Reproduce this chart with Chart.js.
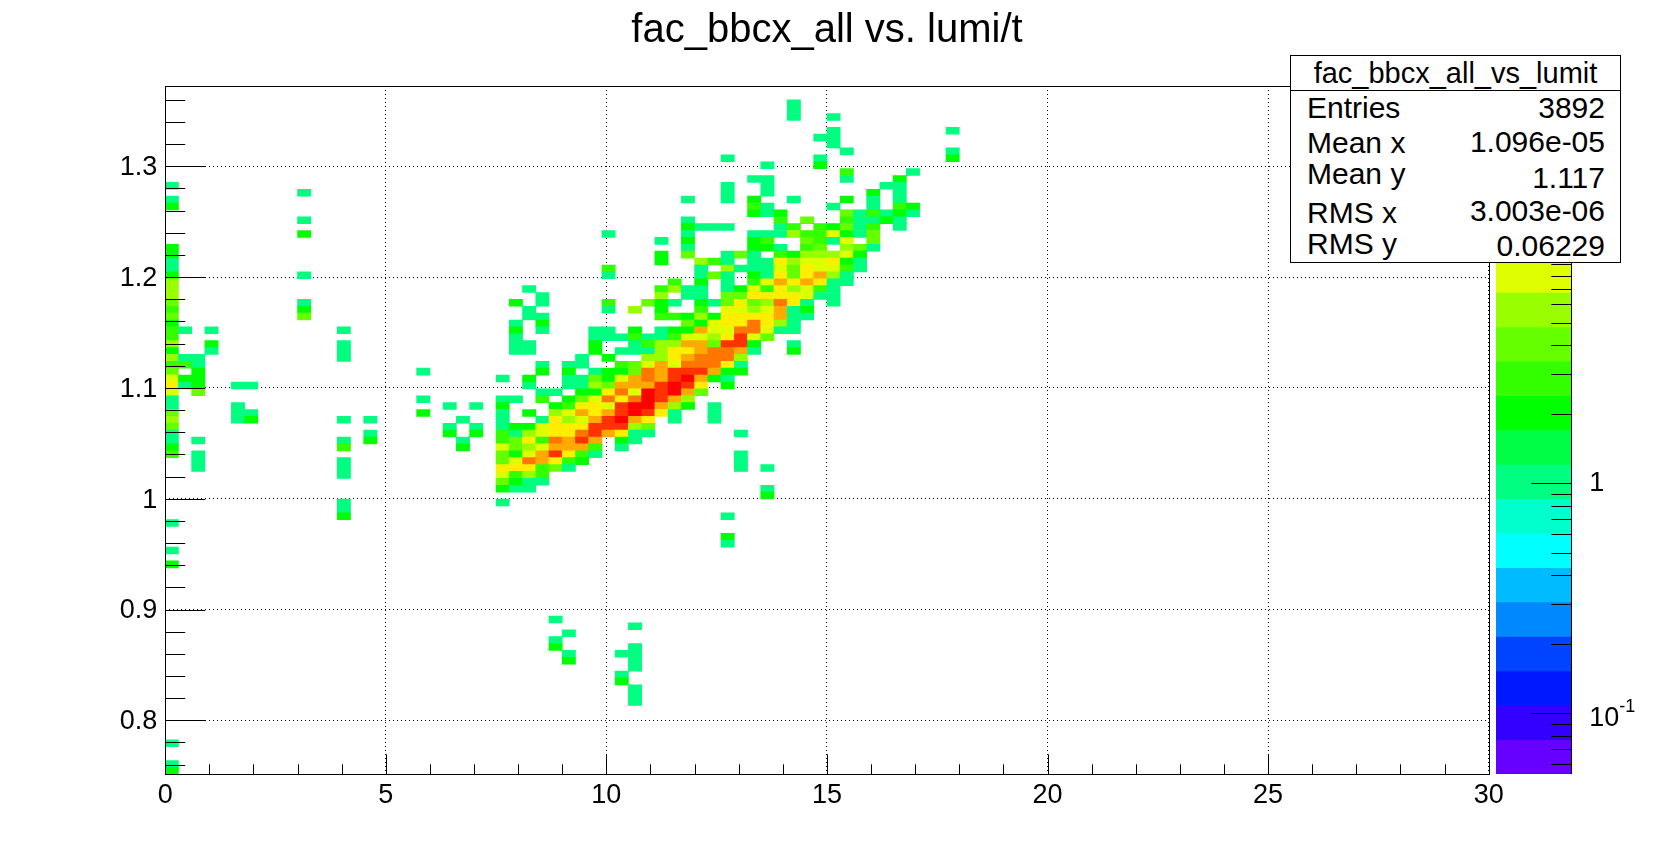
<!DOCTYPE html>
<html>
<head>
<meta charset="utf-8">
<title>fac_bbcx_all vs. lumi/t</title>
<script src="https://cdn.jsdelivr.net/npm/chart.js@4/dist/chart.umd.min.js"></script>
<style>
  html, body { margin: 0; padding: 0; background: #fff; overflow: hidden; }
  #page { position: relative; width: 1654px; height: 861px; font-family: "Liberation Sans", sans-serif; color: #000; }
  canvas { position: absolute; top: 0; }
  #stats { position: absolute; left: 1290px; top: 55px; width: 329px; height: 206px; background: #fff; border: 1px solid #000; font-size: 30px; }
  #stats .head { position: absolute; left: 0; right: 0; top: 0; height: 34px; line-height: 35px; text-align: center; border-bottom: 1px solid #000; font-size: 29px; }
  #stats .name, #stats .val { position: absolute; line-height: 30px; white-space: nowrap; }
  #stats .name { left: 16px; }
  #stats .val { right: 15px; }
</style>
</head>
<body>
<div id="page">
  <canvas id="main" width="1654" height="861" style="left:0"></canvas>
  <canvas id="palette" width="164" height="861" style="left:1490px"></canvas>
  <div id="stats"><div class="head"></div></div>
</div>
<script>
// histogram binning
const xMin = 0, xMax = 30, xBins = 100;
const yMin = 0.7513, yMax = 1.3725, yBins = 100;
const zMin = 0.0545, zMax = 53.4;

const titleText = 'fac_bbcx_all vs. lumi/t';
const xTicks = [0, 5, 10, 15, 20, 25, 30];
const yTicks = [0.8, 0.9, 1, 1.1, 1.2, 1.3];
const xMinorTicks = [1,2,3,4,6,7,8,9,11,12,13,14,16,17,18,19,21,22,23,24,26,27,28,29];
const yMinorTicks = [0.76,0.78,0.82,0.84,0.86,0.88,0.92,0.94,0.96,0.98,1.02,1.04,1.06,1.08,1.12,1.14,1.16,1.18,1.22,1.24,1.26,1.28,1.32,1.34,1.36];
const zMinorTicks = [0.06,0.07,0.08,0.09,0.2,0.3,0.4,0.5,0.6,0.7,0.8,0.9,2,3,4,5,6,7,8,9,20,30,40,50];

const statsName = 'fac_bbcx_all_vs_lumit';
const statLabels = ['Entries', 'Mean x', 'Mean y', 'RMS x', 'RMS y'];
const statValues = ['3892', '1.096e-05', '1.117', '3.003e-06', '0.06229'];

// rainbow palette, bottom to top of the colour bar
const paletteColors = ['#6600ff','#3300ff','#0018ff','#0044ff','#0088ff','#00bbff','#00ffff','#00ffcc','#00ff80','#00ff44',
  '#00ff00','#33ff00','#66ff00','#99ff00','#ddff00','#ffee00','#ffaa00','#ff7700','#ff3300','#ff0000'];

// one line per y bin: y bin, then x bin, count, x bin, count ...
const cellRows = [
  [97, 47,1],
  [96, 47,1],
  [95, 47,1, 50,1],
  [93, 50,1, 59,1],
  [92, 49,1, 50,1],
  [91, 50,1],
  [90, 51,1, 59,1],
  [89, 42,1, 49,1, 59,2],
  [88, 45,1, 49,2],
  [87, 51,3, 56,1],
  [86, 44,1, 45,1, 51,1, 55,2],
  [85, 0,1, 42,1, 45,1, 54,1, 55,1],
  [84, 10,1, 42,1, 45,1, 53,2, 55,1],
  [83, 0,1, 39,1, 42,1, 44,2, 47,1, 51,2, 53,1, 55,1],
  [82, 0,2, 44,3, 45,1, 50,1, 53,1, 55,3, 56,2],
  [81, 44,2, 45,1, 46,2, 51,4, 52,1, 53,3, 54,1, 55,2, 56,1],
  [80, 10,1, 39,1, 46,3, 48,4, 51,3, 52,1, 53,1, 54,2, 55,1],
  [79, 39,2, 40,1, 41,1, 42,1, 46,1, 47,3, 49,3, 50,2, 51,4, 52,1, 53,3, 55,1],
  [78, 10,2, 33,1, 39,1, 44,1, 45,1, 46,1, 47,5, 48,3, 49,3, 50,7, 51,2, 52,1, 53,4],
  [77, 37,1, 39,2, 44,2, 45,3, 48,4, 49,3, 50,1, 51,7, 53,4],
  [76, 0,2, 39,1, 44,2, 45,2, 46,1, 48,3, 49,4, 51,5, 52,4, 53,1],
  [75, 0,2, 37,2, 39,4, 42,1, 43,4, 44,1, 46,3, 47,2, 48,5, 49,5, 50,5, 51,7, 52,2],
  [74, 0,1, 37,2, 40,5, 41,3, 42,1, 44,1, 45,1, 46,10, 47,5, 48,7, 49,7, 50,10, 51,2, 52,1],
  [73, 0,1, 33,3, 40,1, 42,5, 43,1, 44,1, 45,1, 46,7, 47,4, 48,10, 49,7, 50,7, 51,3, 52,1],
  [72, 0,2, 10,1, 33,1, 40,1, 41,4, 42,1, 44,2, 45,1, 46,10, 47,4, 48,10, 49,15, 50,5, 51,1],
  [71, 0,5, 38,3, 40,2, 42,1, 44,3, 45,7, 46,15, 47,10, 48,15, 49,10, 50,1, 51,1],
  [70, 0,5, 27,1, 37,3, 38,5, 39,1, 40,1, 42,1, 43,2, 44,7, 45,3, 46,10, 47,5, 48,7, 49,3, 50,1],
  [69, 0,5, 28,1, 37,5, 39,1, 40,1, 42,4, 43,4, 44,10, 45,10, 46,10, 47,10, 48,7, 49,1, 50,1],
  [68, 0,4, 10,1, 26,2, 28,1, 33,3, 36,4, 37,2, 38,1, 40,2, 41,1, 42,4, 43,10, 44,4, 45,5, 46,20, 47,10, 48,1, 50,1],
  [67, 0,3, 10,2, 27,1, 33,1, 35,5, 37,2, 40,3, 42,7, 43,7, 44,5, 45,7, 46,15, 47,1, 48,2],
  [66, 0,4, 10,4, 27,1, 28,1, 37,3, 38,3, 39,2, 40,5, 41,2, 42,10, 43,10, 44,10, 45,10, 46,15, 47,1, 48,1],
  [65, 0,2, 26,1, 28,2, 39,4, 40,2, 41,7, 42,10, 43,10, 44,20, 45,10, 46,5, 47,1],
  [64, 0,3, 1,1, 3,1, 13,1, 26,2, 28,1, 32,1, 33,1, 35,2, 37,1, 38,2, 39,2, 40,15, 41,7, 42,7, 43,20, 44,20, 45,7, 46,1, 47,1],
  [63, 0,3, 26,1, 32,1, 33,1, 34,1, 35,3, 36,1, 37,1, 38,3, 39,7, 40,7, 41,5, 42,10, 43,30, 44,7, 45,4],
  [62, 0,5, 3,2, 13,1, 26,1, 27,1, 32,2, 35,1, 36,3, 37,5, 38,5, 39,15, 40,15, 41,4, 42,30, 43,30, 44,2, 47,1],
  [61, 0,2, 3,1, 13,1, 26,1, 27,1, 32,2, 34,1, 35,1, 36,1, 37,5, 38,10, 39,10, 40,15, 41,20, 42,20, 43,15, 44,1, 47,2],
  [60, 0,5, 1,1, 2,1, 13,1, 31,1, 33,2, 36,5, 37,5, 38,10, 39,15, 40,20, 41,20, 42,20, 43,5],
  [59, 0,3, 1,3, 2,1, 28,1, 30,1, 31,1, 34,3, 35,4, 36,7, 37,15, 38,7, 39,20, 40,20, 41,20, 42,10, 43,1],
  [58, 0,4, 2,2, 19,1, 28,2, 30,2, 32,1, 33,2, 34,2, 35,4, 36,20, 37,15, 38,30, 39,30, 40,30, 41,15, 42,2, 43,2],
  [57, 0,7, 1,2, 2,2, 25,1, 27,2, 30,1, 31,1, 32,4, 33,2, 34,7, 35,15, 36,20, 37,15, 38,30, 39,45, 40,15, 41,2, 42,1],
  [56, 0,10, 1,1, 2,2, 5,1, 6,1, 27,1, 30,1, 31,1, 32,5, 33,4, 34,15, 35,15, 36,15, 37,30, 38,45, 39,30, 40,10, 42,2],
  [55, 0,7, 2,4, 28,1, 29,1, 31,2, 32,2, 33,10, 34,20, 35,7, 36,45, 37,30, 38,45, 39,15, 40,4],
  [54, 0,1, 19,1, 25,1, 26,1, 28,3, 30,2, 31,4, 32,7, 33,20, 34,10, 35,20, 36,45, 37,30, 38,15, 39,5],
  [53, 0,1, 5,1, 21,1, 23,1, 25,2, 29,2, 30,3, 31,10, 32,10, 33,7, 34,30, 35,45, 36,45, 37,15, 38,5, 39,2, 41,1],
  [52, 0,4, 5,1, 6,1, 19,2, 25,1, 27,2, 29,5, 30,7, 31,15, 32,10, 33,15, 34,30, 35,45, 36,30, 37,10, 38,1, 41,1],
  [51, 0,5, 5,1, 6,2, 13,1, 15,1, 22,1, 25,1, 28,1, 29,10, 30,5, 31,7, 32,15, 33,30, 34,45, 35,15, 36,10, 38,1, 41,1],
  [50, 0,4, 21,1, 23,1, 25,1, 26,2, 27,2, 28,7, 29,10, 30,10, 31,10, 32,30, 33,30, 34,30, 35,5, 36,4],
  [49, 0,1, 15,1, 21,2, 23,2, 25,3, 26,1, 27,5, 28,7, 29,10, 30,10, 31,20, 32,30, 33,15, 34,10, 35,1, 36,1, 43,1],
  [48, 0,1, 2,1, 13,1, 15,2, 22,1, 25,3, 26,4, 27,10, 28,3, 29,20, 30,15, 31,30, 32,15, 34,2, 35,1],
  [47, 0,2, 13,3, 22,2, 25,7, 26,4, 27,5, 28,7, 29,15, 30,15, 31,15, 32,3, 34,1],
  [46, 0,3, 2,1, 25,4, 26,2, 27,7, 28,15, 29,30, 30,10, 31,3, 32,1, 43,1],
  [45, 2,1, 13,1, 25,4, 26,7, 27,20, 28,15, 29,10, 30,3, 31,2, 43,1],
  [44, 2,1, 13,1, 25,10, 26,10, 27,10, 28,3, 29,4, 30,1, 43,1, 45,1],
  [43, 13,1, 25,7, 26,3, 27,5, 28,3],
  [42, 25,4, 26,2, 27,1, 28,1],
  [41, 25,2, 26,1, 27,1, 45,1],
  [40, 45,2],
  [39, 13,1, 25,1],
  [38, 13,1],
  [37, 13,2, 42,1],
  [36, 0,1],
  [34, 42,2],
  [33, 42,1],
  [32, 0,1],
  [30, 0,2],
  [22, 29,1],
  [21, 35,1],
  [20, 30,1],
  [19, 29,1],
  [18, 29,2, 35,1],
  [17, 30,1, 34,1, 35,1],
  [16, 30,2, 35,1],
  [15, 35,1],
  [14, 34,1],
  [13, 34,2],
  [12, 35,1],
  [11, 35,1],
  [10, 35,1],
  [4, 0,1],
  [1, 0,1],
  [0, 0,2]
];

const FONT = '"Liberation Sans", sans-serif';
const nLevels = paletteColors.length;
const logStep = Math.log10(zMax / zMin) / nLevels;
const binX = (xMax - xMin) / xBins;
const binY = (yMax - yMin) / yBins;

function colorFor(count) {
  const k = Math.floor(Math.log10(count / zMin) / logStep);
  return paletteColors[Math.min(k, nLevels - 1)];
}

const cellData = [];
const cellColors = [];
cellRows.forEach(function(row) {
  const lo = yMin + row[0] * binY;
  for (let c = 1; c < row.length; c += 2) {
    cellData.push({ x: xMin + (row[c] + 0.5) * binX, y: [lo, lo + binY] });
    cellColors.push(colorFor(row[c + 1]));
  }
});

function line(ctx, x1, y1, x2, y2) {
  ctx.beginPath();
  ctx.moveTo(x1, y1);
  ctx.lineTo(x2, y2);
  ctx.stroke();
}

// ROOT draws its ticks inside the frame, Chart.js can't do that by itself
const frameAndTicks = {
  id: 'frameAndTicks',
  afterDatasetsDraw(chart) {
    const ctx = chart.ctx, a = chart.chartArea;
    const x = chart.scales.x, y = chart.scales.y;
    ctx.save();
    ctx.strokeStyle = '#000';
    ctx.lineWidth = 1;
    const snap = v => Math.round(v) + 0.5;
    xTicks.forEach(v => { const p = snap(x.getPixelForValue(v)); line(ctx, p, a.bottom, p, a.bottom - 20); });
    xMinorTicks.forEach(v => { const p = snap(x.getPixelForValue(v)); line(ctx, p, a.bottom, p, a.bottom - 10); });
    yTicks.forEach(v => { const p = snap(y.getPixelForValue(v)); line(ctx, a.left, p, a.left + 40, p); });
    yMinorTicks.forEach(v => { const p = snap(y.getPixelForValue(v)); line(ctx, a.left, p, a.left + 20, p); });
    ctx.strokeRect(snap(a.left), snap(a.top), Math.round(a.right - a.left), Math.round(a.bottom - a.top));
    ctx.fillStyle = '#000';
    ctx.font = '40px ' + FONT;
    ctx.textAlign = 'center';
    ctx.textBaseline = 'middle';
    ctx.fillText(titleText, 827, 31);
    ctx.restore();
  }
};

new Chart(document.getElementById('main').getContext('2d'), {
  type: 'bar',
  data: {
    datasets: [{
      data: cellData,
      backgroundColor: cellColors,
      barThickness: 13.24
    }]
  },
  options: {
    responsive: false,
    animation: false,
    events: [],
    layout: { padding: { left: 0, right: 165.3, top: 86, bottom: 0 } },
    plugins: { legend: { display: false }, tooltip: { enabled: false } },
    scales: {
      x: {
        type: 'linear',
        offset: false,
        min: xMin,
        max: xMax,
        afterFit(s) { s.height = 86.7; },
        afterBuildTicks(s) { s.ticks = xTicks.map(v => ({ value: v })); },
        border: { display: false, dash: [1, 3] },
        grid: { color: '#000', lineWidth: 1, drawTicks: false, offset: false },
        ticks: { color: '#000', font: { family: FONT, size: 27 }, padding: 5, maxRotation: 0, autoSkip: false, callback: v => String(v) }
      },
      y: {
        type: 'linear',
        min: yMin,
        max: yMax,
        afterFit(s) { s.width = 165.2; },
        afterBuildTicks(s) { s.ticks = yTicks.map(v => ({ value: v })); },
        border: { display: false, dash: [1, 3] },
        grid: { color: '#000', lineWidth: 1, drawTicks: false },
        ticks: { color: '#000', font: { family: FONT, size: 27 }, padding: 8, labelOffset: 1.5, autoSkip: false, callback: v => String(v) }
      }
    }
  },
  plugins: [frameAndTicks]
});

// colour bar, its own small chart on a log scale
const bandEdges = paletteColors.map((c, k) => zMin * Math.pow(10, k * logStep));
const bandData = bandEdges.map((lo, k) => [lo, zMin * Math.pow(10, (k + 1) * logStep)]);

new Chart(document.getElementById('palette').getContext('2d'), {
  type: 'bar',
  data: {
    labels: paletteColors.map(() => 'z'),
    datasets: [{ data: bandData.map(b => ({ x: 'z', y: b })), backgroundColor: paletteColors, barPercentage: 1, categoryPercentage: 1, grouped: false }]
  },
  options: {
    responsive: false,
    animation: false,
    events: [],
    layout: { padding: { left: 6, right: 82.7, top: 86, bottom: 87 } },
    plugins: { legend: { display: false }, tooltip: { enabled: false } },
    scales: {
      x: { type: 'category', labels: ['z'], display: false },
      y: { type: 'logarithmic', min: zMin, max: zMax, display: false }
    }
  },
  plugins: [{
    id: 'paletteAxis',
    afterDatasetsDraw(chart) {
      const ctx = chart.ctx, a = chart.chartArea, z = chart.scales.y;
      const snap = v => Math.round(v) + 0.5;
      ctx.save();
      ctx.strokeStyle = '#000';
      ctx.lineWidth = 1;
      line(ctx, snap(a.right), a.top, snap(a.right), a.bottom);
      zMinorTicks.forEach(v => { const p = snap(z.getPixelForValue(v)); line(ctx, a.right, p, a.right - 20, p); });
      [0.1, 1, 10].forEach(v => { const p = snap(z.getPixelForValue(v)); line(ctx, a.right, p, a.right - 40, p); });
      ctx.fillStyle = '#000';
      ctx.textBaseline = 'middle';
      ctx.textAlign = 'left';
      ctx.font = '27px ' + FONT;
      ctx.fillText('1', a.right + 18, z.getPixelForValue(1));
      ctx.fillText('10', a.right + 18, z.getPixelForValue(0.1) + 5);
      ctx.font = '18px ' + FONT;
      ctx.fillText('-1', a.right + 48, z.getPixelForValue(0.1) - 6);
      ctx.restore();
    }
  }]
});

// stats box, on top of both charts
const statLabelTops = [37, 72, 103, 142, 173];
const statValueTops = [37, 71, 107, 140, 175];
const stats = document.getElementById('stats');
stats.querySelector('.head').textContent = statsName;
statLabels.forEach(function(label, n) {
  const name = document.createElement('div');
  name.className = 'name';
  name.style.top = statLabelTops[n] + 'px';
  name.textContent = label;
  stats.appendChild(name);
  const val = document.createElement('div');
  val.className = 'val';
  val.style.top = statValueTops[n] + 'px';
  val.textContent = statValues[n];
  stats.appendChild(val);
});
</script>
</body>
</html>
